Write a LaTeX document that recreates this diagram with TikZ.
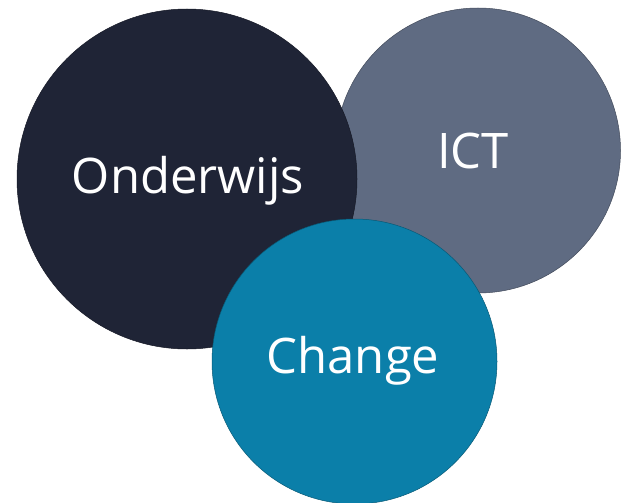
\documentclass[tikz,border=0pt]{standalone}
\usepackage{fontspec}
\setmainfont{Open Sans}
\definecolor{navy}{HTML}{1F2436}
\definecolor{slate}{HTML}{5F6B82}
\definecolor{teal}{HTML}{0B7FA9}
\tikzset{
	blob/.style={circle, draw=#1!70!black, line width=0.5pt, inner sep=0pt},
	word/.style={text=white, anchor=base, font=\fontsize{49}{54}\selectfont, inner sep=0pt}
}
\begin{document}
\begin{tikzpicture}[x=1pt, y=-1pt]
	\useasboundingbox (0,0) rectangle (621,503);
	
	%ICT circle, behind
	\node[blob=slate, fill=slate, minimum size=285pt] (ict) at (478,150.5) {};
	%Onderwijs circle
	\node[blob=navy, fill=navy, minimum size=340pt] (onderwijs) at (187,179) {};
	%Change circle, on top
	\node[blob=teal, fill=teal, minimum size=285pt] (change) at (354.5,361.5) {};
	
	%the words
	\node[word] (tOnderwijs) at (188,193) {Onderwijs};
	\node[word] (tICT) at (473,168) {ICT};
	\node[word] (tChange) at (353,373) {Change};
\end{tikzpicture}
\end{document}
